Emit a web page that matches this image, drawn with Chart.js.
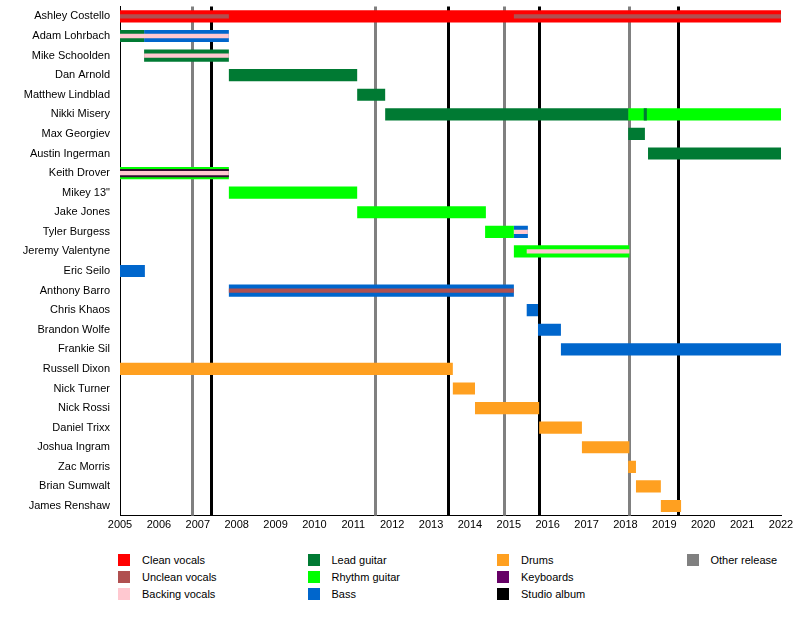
<!DOCTYPE html>
<html>
<head>
<meta charset="utf-8">
<script src="https://cdn.jsdelivr.net/npm/chart.js@4"></script>
<style>
  body { margin: 0; background: #fff; font-family: "Liberation Sans", Arial, sans-serif; }
  #wrap { position: relative; width: 800px; height: 630px; overflow: hidden; }
  #chart { position: absolute; top: -10px; left: 0; }
  #legend { position: absolute; top: 554px; left: 118px; width: 680px; font-size: 11px; }
  .item { position: absolute; display: flex; align-items: center; }
  .sw { width: 12px; height: 12px; margin-right: 12px; }
</style>
</head>
<body>
<div id="wrap">
  <canvas id="chart" width="800" height="543" style="width:800px;height:543px"></canvas>
  <div id="legend"></div>
</div>
<script>
var members = ['Ashley Costello', 'Adam Lohrbach', 'Mike Schoolden', 'Dan Arnold', 'Matthew Lindblad',
  'Nikki Misery', 'Max Georgiev', 'Austin Ingerman', 'Keith Drover', 'Mikey 13"', 'Jake Jones',
  'Tyler Burgess', 'Jeremy Valentyne', 'Eric Seilo', 'Anthony Barro', 'Chris Khaos', 'Brandon Wolfe',
  'Frankie Sil', 'Russell Dixon', 'Nick Turner', 'Nick Rossi', 'Daniel Trixx', 'Joshua Ingram',
  'Zac Morris', 'Brian Sumwalt', 'James Renshaw'];

// [member, start, end]
var cleanVocals = [['Ashley Costello', 2005, 2022]];
var leadGuitar = [['Adam Lohrbach', 2005, 2005.62], ['Mike Schoolden', 2005.62, 2007.8], ['Dan Arnold', 2007.8, 2011.1],
  ['Matthew Lindblad', 2011.1, 2011.82], ['Nikki Misery', 2011.82, 2018.07], ['Max Georgiev', 2018.07, 2018.5],
  ['Austin Ingerman', 2018.58, 2022]];
var leadAccent = [['Nikki Misery', 2018.47, 2018.55]];
var rhythmGuitar = [['Nikki Misery', 2018.07, 2022], ['Keith Drover', 2005, 2007.8], ['Mikey 13"', 2007.8, 2011.1],
  ['Jake Jones', 2011.1, 2014.41], ['Tyler Burgess', 2014.39, 2015.13], ['Jeremy Valentyne', 2015.13, 2018.1]];
var bass = [['Adam Lohrbach', 2005.62, 2007.8], ['Tyler Burgess', 2015.13, 2015.49], ['Eric Seilo', 2005, 2005.64],
  ['Anthony Barro', 2007.8, 2015.13], ['Chris Khaos', 2015.46, 2015.75], ['Brandon Wolfe', 2015.75, 2016.34],
  ['Frankie Sil', 2016.34, 2022]];
var drums = [['Russell Dixon', 2005, 2013.56], ['Nick Turner', 2013.56, 2014.13], ['Nick Rossi', 2014.13, 2015.78],
  ['Daniel Trixx', 2015.78, 2016.88], ['Joshua Ingram', 2016.88, 2018.1], ['Zac Morris', 2018.07, 2018.27],
  ['Brian Sumwalt', 2018.27, 2018.91], ['James Renshaw', 2018.91, 2019.43]];
var uncleanVocals = [['Ashley Costello', 2005, 2007.8], ['Ashley Costello', 2015.13, 2022], ['Anthony Barro', 2007.8, 2015.13]];
var keyboards = [['Keith Drover', 2005, 2007.8]];
var backingVocals = [['Adam Lohrbach', 2005, 2007.8], ['Mike Schoolden', 2005.62, 2007.8], ['Keith Drover', 2005, 2007.8],
  ['Tyler Burgess', 2015.13, 2015.49], ['Jeremy Valentyne', 2015.46, 2018.1]];
var studioAlbums = [2007.34, 2013.44, 2015.78, 2019.35];
var otherReleases = [2006.85, 2011.56, 2014.88, 2018.1];

var colors = { clean: '#ff0000', unclean: '#b05050', backing: '#ffc8d0', lead: '#007a33', rhythm: '#00ff00',
  bass: '#0066cc', drums: '#ffa020', keys: '#660066', studio: '#000000', other: '#808080' };

function toBars(list) {
  return list.map(function (r) { return { y: r[0], x: [r[1], r[2]] }; });
}
function ds(label, list, color, pct, order) {
  return { label: label, data: toBars(list), backgroundColor: color, barPercentage: pct,
    categoryPercentage: 1, grouped: false, order: order, borderWidth: 0 };
}

var releaseLines = {
  id: 'releaseLines',
  beforeDatasetsDraw: function (chart) {
    var c = chart.ctx, x = chart.scales.x, a = chart.chartArea;
    c.save();
    c.lineWidth = 3;
    [[otherReleases, colors.other], [studioAlbums, colors.studio]].forEach(function (g) {
      c.strokeStyle = g[1];
      g[0].forEach(function (v) {
        var px = Math.round(x.getPixelForValue(v)) + 0.5;
        c.beginPath(); c.moveTo(px, a.top); c.lineTo(px, a.bottom); c.stroke();
      });
    });
    c.restore();
  }
};

new Chart(document.getElementById('chart'), {
  type: 'bar',
  data: {
    labels: members,
    datasets: [
      ds('Clean vocals', cleanVocals, colors.clean, 0.62, 5),
      ds('Lead guitar', leadGuitar, colors.lead, 0.62, 5),
      ds('Rhythm guitar', rhythmGuitar, colors.rhythm, 0.62, 5),
      ds('Bass', bass, colors.bass, 0.62, 5),
      ds('Drums', drums, colors.drums, 0.62, 5),
      ds('Lead accent', leadAccent, colors.lead, 0.62, 4),
      ds('Unclean vocals', uncleanVocals, colors.unclean, 0.22, 3),
      ds('Keyboards', keyboards, '#301030', 0.42, 3),
      ds('Backing vocals', backingVocals, colors.backing, 0.22, 2)
    ]
  },
  plugins: [releaseLines],
  options: {
    indexAxis: 'y',
    responsive: false,
    animation: false,
    layout: { padding: { top: 0, right: 19, left: 0 } },
    plugins: { legend: { display: false }, tooltip: { enabled: false } },
    scales: {
      x: {
        type: 'linear', min: 2005, max: 2022,
        grid: { display: false, drawTicks: true, tickLength: 2 },
        border: { color: '#000', width: 1 },
        ticks: { stepSize: 1, color: '#000', padding: 1, font: { family: 'Liberation Sans', size: 11 }, maxRotation: 0,
          callback: function (v) { return String(v); } }
      },
      y: {
        type: 'category',
        grid: { display: false, drawTicks: false },
        border: { color: '#000', width: 1 },
        afterFit: function (s) { s.width = 120; },
        ticks: { color: '#000', padding: 10, font: { family: 'Liberation Sans', size: 11 } }
      }
    }
  }
});

var legendItems = [
  ['Clean vocals', colors.clean, 0, 0], ['Unclean vocals', colors.unclean, 0, 1], ['Backing vocals', colors.backing, 0, 2],
  ['Lead guitar', colors.lead, 1, 0], ['Rhythm guitar', colors.rhythm, 1, 1], ['Bass', colors.bass, 1, 2],
  ['Drums', colors.drums, 2, 0], ['Keyboards', colors.keys, 2, 1], ['Studio album', colors.studio, 2, 2],
  ['Other release', colors.other, 3, 0]
];
var leg = document.getElementById('legend');
legendItems.forEach(function (it) {
  var d = document.createElement('div');
  d.className = 'item';
  d.style.left = (it[2] * 189.5) + 'px';
  d.style.top = (it[3] * 17) + 'px';
  d.innerHTML = '<span class="sw" style="background:' + it[1] + '"></span>' + it[0];
  leg.appendChild(d);
});
</script>
</body>
</html>
